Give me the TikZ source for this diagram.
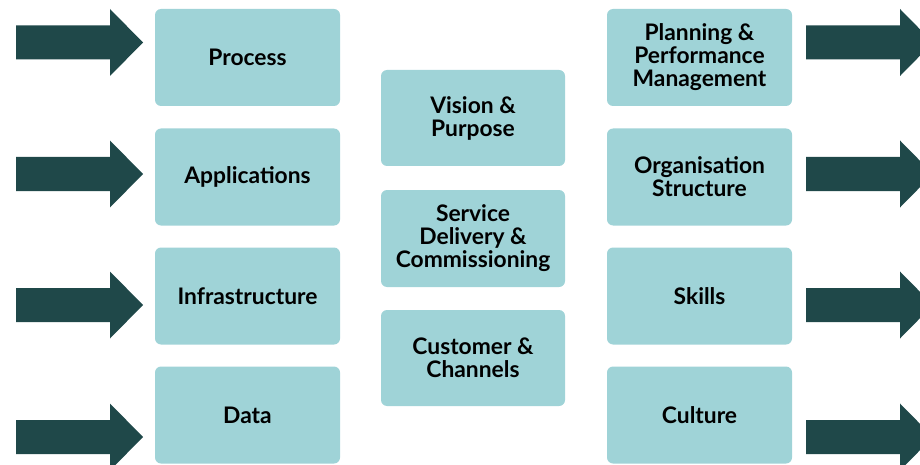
\documentclass[tikz,border=0pt]{standalone}
\usepackage{fontspec}
\setmainfont{Lato}
\begin{document}
\begin{tikzpicture}[x=1pt,y=-1pt,
  tile/.style={fill=tilefill, rounded corners=6pt, minimum width=185pt, minimum height=97pt,
    align=center, font=\fontsize{22.8}{23}\selectfont\bfseries, text=black, inner sep=0pt},
  blockarrow/.style={fill=arrowfill}]
\definecolor{tilefill}{HTML}{9FD3D7}
\definecolor{arrowfill}{HTML}{1F4849}
\useasboundingbox (0,0) rectangle (920,465);
% block arrow: tail x, centre y
\newcommand{\blockarr}[2]{%
  \fill[blockarrow] (#1,#2-17) -- ++(94,0) -- ++(0,-16.5) -- ++(33,33.5) -- ++(-33,33.5) -- ++(0,-16.5) -- ++(-94,0) -- cycle;}
% left column
\node[tile] (process) at (247.5,57.5) {Process};
\node[tile] (apps)    at (247.5,177) {Applications};
\node[tile] (infra)   at (247.5,296) {Infrastructure};
\node[tile] (data)    at (247.5,415) {Data};
% centre column
\node[tile, minimum width=184pt, minimum height=96pt] (vision)   at (473,118) {Vision \&\\Purpose};
\node[tile, minimum width=184pt, minimum height=97pt] (service)  at (473,238.5) {Service\\Delivery \&\\Commissioning};
\node[tile, minimum width=184pt, minimum height=96pt] (customer) at (473,358) {Customer \&\\Channels};
% right column
\node[tile] (planning) at (699.5,57.5) {Planning \&\\Performance\\Management};
\node[tile] (org)      at (699.5,177) {Organisation\\Structure};
\node[tile] (skills)   at (699.5,296) {Skills};
\node[tile] (culture)  at (699.5,415) {Culture};
% incoming arrows
\blockarr{16}{42.5}
\blockarr{16}{174}
\blockarr{16}{305}
\blockarr{16}{437}
% outgoing arrows
\blockarr{806}{42.5}
\blockarr{806}{174}
\blockarr{806}{305}
\blockarr{806}{437}
\end{tikzpicture}
\end{document}
